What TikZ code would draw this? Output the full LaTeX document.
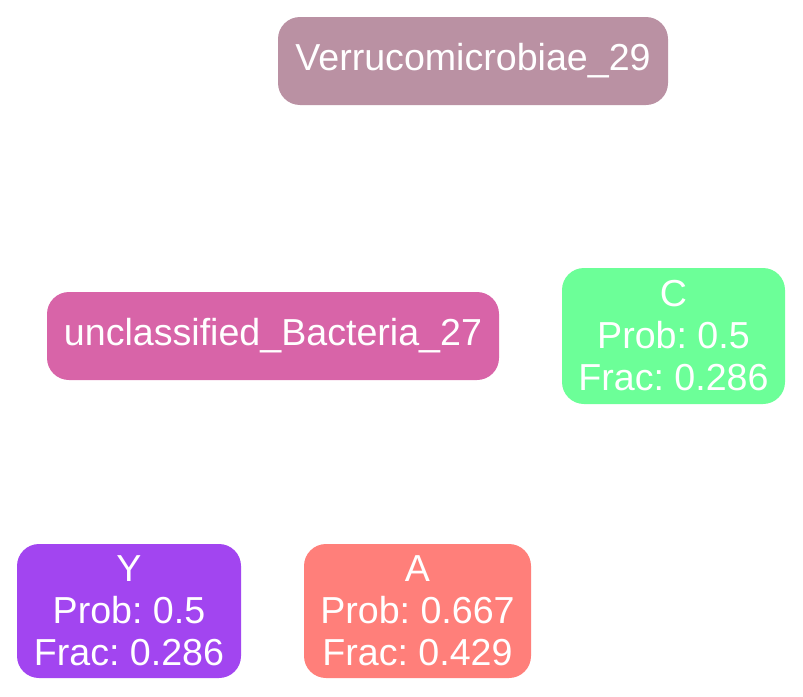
\documentclass[tikz,border=0pt]{standalone}
\usepackage{fontspec}
\setmainfont{Liberation Sans}
\frenchspacing
\begin{document}
\begin{tikzpicture}[x=1pt,y=-1pt,
  taxon/.style={rounded corners=22pt, inner sep=0pt, text=white, align=center,
    font=\fontsize{37.6}{42}\selectfont\frenchspacing},
]
\definecolor{verruco}{HTML}{BA91A3}
\definecolor{unclass}{HTML}{D864A8}
\definecolor{baseC}{HTML}{6CFF98}
\definecolor{baseY}{HTML}{A245F0}
\definecolor{baseA}{HTML}{FF7F7A}
\useasboundingbox (0,0) rectangle (803,696);

\node[taxon, fill=verruco, minimum width=390pt, minimum height=88pt] (verr) at (473,61) {Verrucomicrobiae\_29};
\node[taxon, fill=unclass, minimum width=452pt, minimum height=88pt] (uncl) at (273,336) {unclassified\_Bacteria\_27};
\node[taxon, fill=baseC, minimum width=223pt, minimum height=136pt] (nC) at (673.5,336) {C\\Prob: 0.5\\Frac: 0.286};
\node[taxon, fill=baseY, minimum width=224pt, minimum height=134pt] (nY) at (129,611) {Y\\Prob: 0.5\\Frac: 0.286};
\node[taxon, fill=baseA, minimum width=227pt, minimum height=134pt] (nA) at (417.5,611) {A\\Prob: 0.667\\Frac: 0.429};
\end{tikzpicture}
\end{document}
